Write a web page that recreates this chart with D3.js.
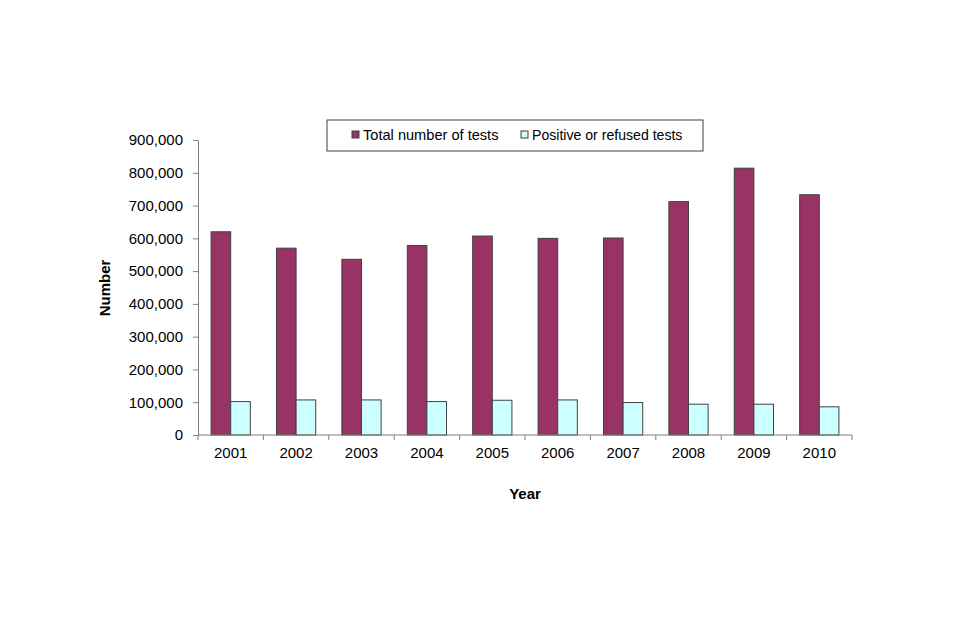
<!DOCTYPE html>
<html><head><meta charset="utf-8">
<script src="https://cdn.jsdelivr.net/npm/d3@7"></script>
<style>body{margin:0;background:#fff}svg{display:block}text{font-family:"Liberation Sans",Arial,sans-serif}</style>
</head><body>
<script>
const years = ["2001","2002","2003","2004","2005","2006","2007","2008","2009","2010"];
const totalTests = [620000,570000,536000,578000,607000,600000,601000,712000,814000,733000];
const positiveTests = [102000,107000,107000,102000,106000,107000,99000,94000,94000,86000];
const seriesNames = ["Total number of tests","Positive or refused tests"];
const seriesColors = ["#993366","#CCFFFF"];
const yTicks = [0,100000,200000,300000,400000,500000,600000,700000,800000,900000];

const W=960,H=640;
const svg=d3.select("body").append("svg").attr("width",W).attr("height",H);
const x0=198,x1=852,yTop=140,yBot=435;
const x=d3.scaleBand().domain(years).range([x0,x1]).paddingInner(0.4).paddingOuter(0.2);
const xs=d3.scaleBand().domain([0,1]).range([0,x.bandwidth()]);
const y=d3.scaleLinear().domain([0,900000]).range([yBot,yTop]);
const series=[totalTests,positiveTests];

const g=svg.append("g");
series.forEach((vals,si)=>{
  g.selectAll(null).data(years).enter().append("rect")
   .attr("x",d=>x(d)+xs(si)).attr("width",xs.bandwidth())
   .attr("y",(d,i)=>y(vals[i])).attr("height",(d,i)=>yBot-y(vals[i]))
   .attr("fill",seriesColors[si]).attr("stroke","#404040").attr("stroke-width",1);
});

const fmt=d3.format(",");
const yAxis=svg.append("g").attr("transform",`translate(${x0},0)`)
  .call(d3.axisLeft(y).tickValues(yTicks).tickFormat(d=>d===0?"0":fmt(d)).tickSize(5).tickPadding(10));
yAxis.select(".domain").attr("stroke","#808080");
yAxis.selectAll(".tick line").attr("stroke","#808080");
yAxis.selectAll("text").attr("font-size",15).attr("fill","#000");

const xAxis=svg.append("g").attr("transform",`translate(0,${yBot})`)
  .call(d3.axisBottom(x).tickSize(0).tickPadding(12));
xAxis.select(".domain").attr("d",`M${x0},0H${x1}`).attr("stroke","#808080");
xAxis.selectAll("text").attr("font-size",15).attr("fill","#000");
const step=x.step();
const bounds=d3.range(years.length+1).map(i=>x0+i*step);
xAxis.selectAll(".bnd").data(bounds).enter().append("line")
  .attr("x1",d=>d).attr("x2",d=>d).attr("y1",0).attr("y2",5).attr("stroke","#808080");

svg.append("text").attr("x",(x0+x1)/2).attr("y",499).attr("text-anchor","middle")
  .attr("font-size",15).attr("font-weight","bold").text("Year");
svg.append("text").attr("transform",`translate(110,288) rotate(-90)`).attr("text-anchor","middle")
  .attr("font-size",15).attr("font-weight","bold").text("Number");

// legend
const lg=svg.append("g");
lg.append("rect").attr("x",327).attr("y",120).attr("width",376).attr("height",31)
  .attr("fill","#fff").attr("stroke","#404040");
const lx=[352,521];
const lfs=[14.6,14.1];
seriesNames.forEach((n,i)=>{
  lg.append("rect").attr("x",lx[i]).attr("y",131).attr("width",7).attr("height",7)
    .attr("fill",seriesColors[i]).attr("stroke","#404040");
  lg.append("text").attr("x",lx[i]+11).attr("y",140).attr("font-size",lfs[i]).text(n);
});
</script>
</body></html>
